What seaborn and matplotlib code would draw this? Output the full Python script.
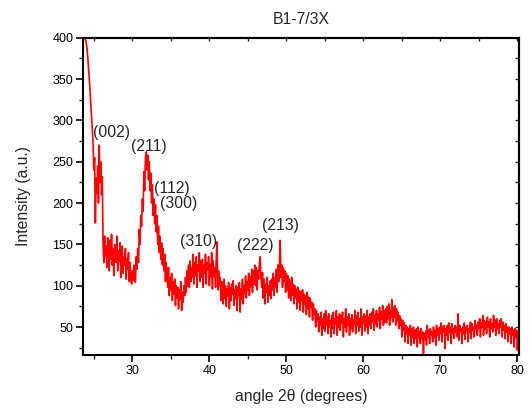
import matplotlib
matplotlib.use("Agg")
import matplotlib.pyplot as plt
import numpy as np
import pandas as pd
import seaborn as sns

# scan: start angle and step (degrees), intensities
start_angle = 23.6
step = 0.1
intensity = [
    402, 405, 400, 398,                                 # 23.6 - 23.9
    395, 388, 378, 365, 352, 338, 320, 305, 290, 272,   # 24.x
    240, 255, 176, 230, 212, 245, 200, 270, 225, 250,   # 25.x
    210, 232, 150, 128, 160, 135, 148, 122, 158, 140,   # 26.x
    118, 155, 132, 162, 125, 145, 112, 150, 138, 128,   # 27.x
    160, 118, 142, 130, 152, 110, 138, 148, 115, 135,   # 28.x
    125, 145, 108, 132, 120, 140, 105, 128, 112, 102,   # 29.x
    118, 106, 125, 112, 104, 135, 120, 145, 128, 168,   # 30.x
    150, 185, 172, 205, 190, 238, 215, 255, 262, 240,   # 31.x
    258, 228, 250, 215, 236, 200, 222, 185, 205, 175,   # 32.x
    198, 165, 185, 150, 172, 140, 160, 132, 152, 125,   # 33.x
    145, 118, 138, 105, 128, 112, 98, 122, 88, 110,     # 34.x
    95, 115, 82, 105, 90, 108, 76, 100, 85, 98,         # 35.x
    72, 95, 84, 105, 70, 92, 80, 100, 88, 110,          # 36.x
    92, 118, 100, 125, 98, 130, 105, 122, 110, 138,     # 37.x
    102, 128, 112, 135, 98, 125, 118, 140, 105, 130,    # 38.x
    110, 132, 98, 125, 115, 138, 102, 128, 120, 135,    # 39.x
    100, 126, 110, 140, 96, 130, 112, 122, 98, 135,     # 40.x
    153, 95, 118, 100, 110, 82, 105, 95, 78, 108,       # 41.x
    85, 100, 75, 96, 88, 104, 72, 98, 82, 102,          # 42.x
    90, 106, 76, 95, 85, 100, 70, 98, 88, 104,          # 43.x
    68, 96, 84, 108, 78, 100, 90, 112, 85, 105,         # 44.x
    95, 115, 88, 110, 98, 120, 92, 118, 102, 125,       # 45.x
    100, 122, 95, 118, 108, 128, 135, 110, 98, 116,     # 46.x
    85, 108, 78, 102, 92, 110, 80, 100, 88, 106,        # 47.x
    84, 108, 95, 115, 88, 110, 98, 120, 92, 125,        # 48.x
    105, 128, 155, 110, 125, 98, 122, 105, 118, 92,     # 49.x
    115, 95, 112, 85, 108, 96, 82, 110, 88, 102,        # 50.x
    78, 100, 85, 96, 72, 98, 80, 94, 70, 92,            # 51.x
    82, 95, 68, 90, 78, 88, 65, 92, 72, 86,             # 52.x
    62, 85, 74, 80, 58, 78, 66, 72, 50, 70,             # 53.x
    58, 66, 44, 62, 52, 68, 40, 60, 48, 66,             # 54.x
    45, 70, 52, 62, 42, 66, 50, 58, 38, 64,             # 55.x
    48, 68, 42, 60, 54, 70, 40, 62, 50, 66,             # 56.x
    46, 64, 55, 68, 38, 60, 50, 72, 44, 62,             # 57.x
    52, 66, 40, 60, 48, 65, 44, 58, 54, 70,             # 58.x
    42, 64, 52, 68, 45, 60, 50, 72, 40, 62,             # 59.x
    55, 66, 45, 64, 50, 70, 42, 62, 52, 66,             # 60.x
    48, 68, 56, 72, 46, 64, 54, 70, 50, 66,             # 61.x
    58, 74, 48, 68, 60, 76, 52, 70, 56, 72,             # 62.x
    55, 75, 60, 78, 52, 70, 62, 83, 56, 74,             # 63.x
    62, 76, 52, 72, 58, 68, 48, 64, 52, 60,             # 64.x
    38, 58, 46, 55, 32, 52, 42, 50, 30, 48,             # 65.x
    40, 52, 28, 48, 38, 50, 30, 46, 36, 48,             # 66.x
    26, 50, 38, 45, 30, 48, 36, 44, 16, 42,             # 67.x
    35, 45, 28, 52, 38, 46, 30, 48, 40, 44,             # 68.x
    32, 50, 38, 46, 28, 52, 40, 48, 34, 50,             # 69.x
    42, 55, 32, 50, 44, 52, 24, 48, 40, 52,             # 70.x
    34, 55, 44, 50, 30, 54, 42, 48, 36, 52,             # 71.x
    44, 50, 38, 66, 34, 52, 45, 48, 30, 50,             # 72.x
    42, 55, 35, 50, 46, 52, 32, 48, 44, 56,             # 73.x
    36, 54, 46, 50, 38, 58, 48, 52, 40, 56,             # 74.x
    48, 60, 38, 55, 50, 64, 40, 58, 48, 56,             # 75.x
    42, 62, 50, 56, 38, 60, 48, 54, 44, 64,             # 76.x
    50, 58, 40, 60, 48, 54, 42, 58, 50, 60,             # 77.x
    38, 56, 46, 52, 36, 54, 44, 50, 32, 50,             # 78.x
    42, 48, 30, 50, 40, 46, 26, 48, 38, 46,             # 79.x
    22, 44, 40,                                         # 80.0 - 80.2
]
angle = np.round(start_angle + step * np.arange(len(intensity)), 2)

# peak labels and where they sit
peak_labels = ["(002)", "(211)", "(112)", "(300)", "(310)", "(222)", "(213)"]
peak_x = [27.3, 32.2, 35.1, 36.0, 38.6, 45.9, 49.2]
peak_y = [286, 268, 218, 200, 154, 149, 173]

df = pd.DataFrame({"angle": angle, "intensity": intensity})

sns.set_style("ticks")
plt.rcParams["font.family"] = ["Liberation Sans", "DejaVu Sans"]

fig = plt.figure(figsize=(5.29, 4.11), dpi=100)
ax = fig.add_axes([0.157, 0.136, 0.824, 0.772])

sns.lineplot(data=df, x="angle", y="intensity", ax=ax, color="#ff0000",
             lw=1.2, estimator=None, sort=False)

for lab, px, py in zip(peak_labels, peak_x, peak_y):
    ax.text(px, py, lab, ha="center", va="center", fontsize=11.3)

ax.set_xlim(23.6, 80.2)
ax.set_ylim(16, 400)
ax.set_xticks([30, 40, 50, 60, 70, 80])
ax.set_xticks([25, 35, 45, 55, 65, 75], minor=True)
ax.set_yticks([50, 100, 150, 200, 250, 300, 350, 400])
ax.set_yticks([25, 75, 125, 175, 225, 275, 325, 375], minor=True)
ax.tick_params(which="major", direction="out", length=5, width=1.2,
               labelsize=9, colors="black", pad=2)
ax.tick_params(which="minor", direction="out", length=3, width=1.0)

# Origin-style inner ticks on top and right
top = ax.secondary_xaxis("top")
top.set_xticks([25, 30, 35, 40, 45, 50, 55, 60, 65, 70, 75, 80])
top.tick_params(direction="in", length=2.5, width=1.0, labeltop=False)
right = ax.secondary_yaxis("right")
right.set_yticks([25, 50, 75, 100, 125, 150, 175, 200, 225, 250, 275, 300,
                  325, 350, 375, 400])
right.tick_params(direction="in", length=3, width=1.0, labelright=False)
for a in (top, right):
    for s in a.spines.values():
        s.set_linewidth(1.5)

for s in ax.spines.values():
    s.set_visible(True)
    s.set_linewidth(1.5)
    s.set_color("black")

ax.set_xlabel("angle 2θ (degrees)", fontsize=11.3, labelpad=9)
ax.set_ylabel("Intensity (a.u.)", fontsize=11.3, labelpad=15)
ax.set_title("B1-7/3X", fontsize=11.3, pad=10)

fig.savefig("out.png", dpi=100)
